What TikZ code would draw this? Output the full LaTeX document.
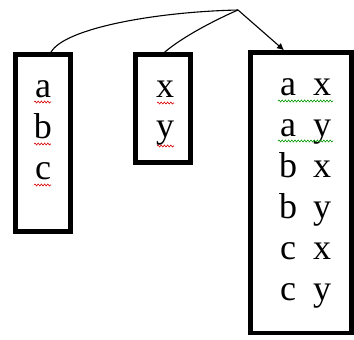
\documentclass[tikz,border=0pt]{standalone}
\usepackage{fontspec}
\setmainfont{Liberation Serif}
\usetikzlibrary{decorations.pathmorphing,arrows.meta}
\begin{document}
\begin{tikzpicture}[x=1pt,y=-1pt,
  boxnode/.style={draw=black,line width=4.5pt,rectangle,inner sep=0pt,outer sep=0pt},
  letter/.style={anchor=base,inner sep=0pt,font=\fontsize{36}{40}\selectfont},
  conn/.style={draw=black,line width=1.1pt},
  redsq/.style={draw=red!85!black,line width=0.6pt,decorate,decoration={snake,segment length=3.2pt,amplitude=1pt}},
  greensq/.style={draw=green!60!black,line width=0.6pt,decorate,decoration={snake,segment length=3.2pt,amplitude=1pt}}]
\useasboundingbox (0,0) rectangle (354,340);
% boxes
\node[boxnode,minimum width=55pt,minimum height=177pt] (b1) at (43,143) {};
\node[boxnode,minimum width=55pt,minimum height=108pt] (b2) at (163,108.5) {};
\node[boxnode,minimum width=101pt,minimum height=280.5pt] (b3) at (301,192.5) {};
% letters box 1
\node[letter] (a1) at (43,97) {a};
\node[letter] (b1l) at (43,138) {b};
\node[letter] (c1) at (43,179) {c};
% letters box 2
\node[letter] (x2) at (165,97) {x};
\node[letter] (y2) at (165,137) {y};
% box 3 rows
\node[letter] (r1a) at (288,95) {a};  \node[letter] (r1b) at (322,95) {x};
\node[letter] (r2a) at (288,136) {a}; \node[letter] (r2b) at (322,136) {y};
\node[letter] (r3a) at (288,177) {b}; \node[letter] (r3b) at (322,177) {x};
\node[letter] (r4a) at (288,218) {b}; \node[letter] (r4b) at (322,218) {y};
\node[letter] (r5a) at (288,259) {c}; \node[letter] (r5b) at (322,259) {x};
\node[letter] (r6a) at (288,300) {c}; \node[letter] (r6b) at (322,300) {y};
% squiggles
\path[redsq] (34,102) -- (51,102);
\path[redsq] (34,144) -- (51,144);
\path[redsq] (34,185) -- (51,185);
\path[redsq] (157,103) -- (174,103);
\path[redsq] (157,146) -- (174,146);
\path[greensq] (278,101) -- (333,101);
\path[greensq] (278,141) -- (333,141);
% connectors
\coordinate (apex) at (238,10);
\draw[conn] ([xshift=7pt]b1.north) .. controls (58,30) and (150,12) .. (apex);
\draw[conn] ([xshift=-1pt]b2.north) .. controls (180,38) and (215,20) .. (apex);
\draw[conn,-{Latex[length=7pt,width=7pt]}] (apex) -- ([xshift=-17pt,yshift=2pt]b3.north);
\end{tikzpicture}
\end{document}
